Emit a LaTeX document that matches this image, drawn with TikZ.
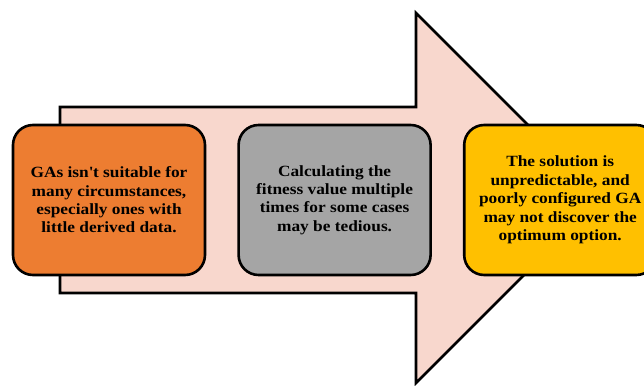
\documentclass[tikz,border=0pt]{standalone}
\usepackage{fontspec}
\setmainfont{Liberation Serif}
\newfontfamily\cardfont[FakeStretch=1.11]{Liberation Serif}
\usetikzlibrary{positioning}

\definecolor{arrowpink}{HTML}{F8D7CD}
\definecolor{boxorange}{HTML}{ED7D31}
\definecolor{boxgray}{HTML}{A5A5A5}
\definecolor{boxyellow}{HTML}{FFC000}

\tikzset{
    cardbox/.style={draw=black, line width=2.6pt, rounded corners=20pt,
        minimum width=192pt, minimum height=150pt,
        align=center, inner sep=0pt,
        font=\cardfont\bfseries\fontsize{15.6}{18.4}\selectfont},
}

\begin{document}
\begin{tikzpicture}[x=1pt,y=-1pt]
            \useasboundingbox (0,0) rectangle (644,385);
            % big arrow in the background
            \draw[fill=arrowpink, line width=2.6pt, line join=miter]
                (60,107) -- (416,107) -- (416,13) -- (601,198)
                -- (416,383) -- (416,293) -- (60,293) -- cycle;
            % the three boxes on top of it
            \node[cardbox, fill=boxorange] (suit) at (109,200)
                {GAs isn\textquotesingle t suitable for\\many circumstances,\\especially ones with\\little derived data.};
            \node[cardbox, fill=boxgray, right=31pt of suit] (fitness)
                {Calculating the\\fitness value multiple\\times for some cases\\may be tedious.};
            \node[cardbox, fill=boxyellow, right=31pt of fitness] (optimum)
                {The solution is\\unpredictable, and\\poorly configured GA\\may not discover the\\optimum option.};
        \end{tikzpicture}
\end{document}
